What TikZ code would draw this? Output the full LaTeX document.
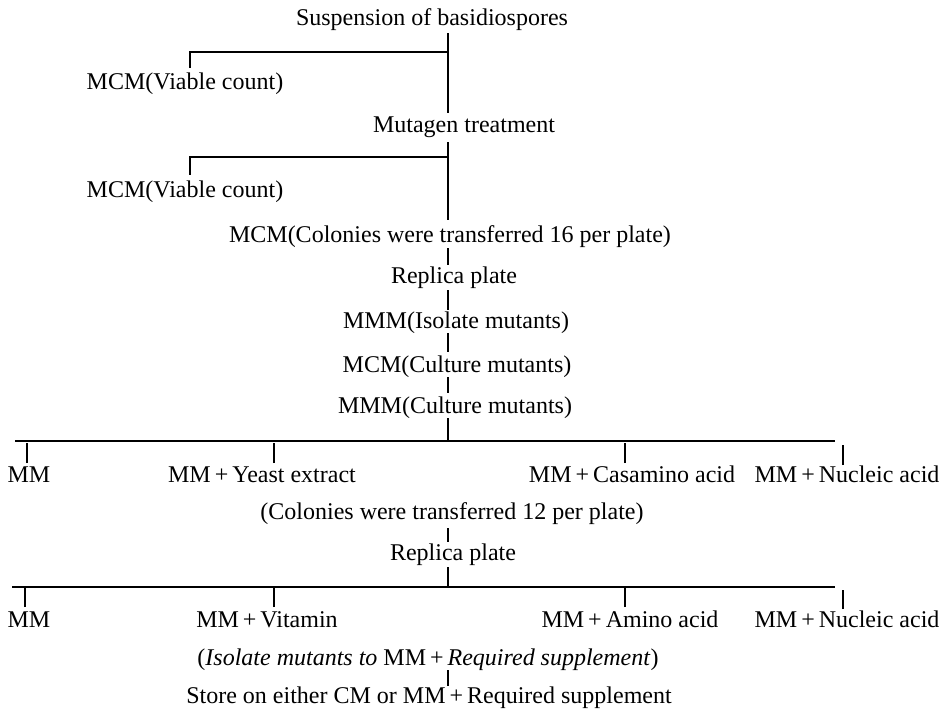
\documentclass[tikz,border=0pt]{standalone}
\usepackage{fontspec}
\setmainfont{Liberation Serif}
\newcommand{\pl}{\,+\,}
\begin{document}
\begin{tikzpicture}[x=1pt,y=-1pt,
  lbl/.style={anchor=base,inner sep=0pt,font=\fontsize{24}{28}\selectfont},
  ln/.style={line width=1.1pt}]
\useasboundingbox (0,0) rectangle (951,712);
\coordinate (axis) at (448,0);
% labels
\node[lbl] (susp)  at (432,25)  {Suspension of basidiospores};
\node[lbl] (vc1)   at (185,89)  {MCM(Viable count)};
\node[lbl] (mut)   at (464,132) {Mutagen treatment};
\node[lbl] (vc2)   at (185,197) {MCM(Viable count)};
\node[lbl] (col16) at (450,242) {MCM(Colonies were transferred 16 per plate)};
\node[lbl] (rep1)  at (454,283) {Replica plate};
\node[lbl] (iso)   at (456,328) {MMM(Isolate mutants)};
\node[lbl] (cul1)  at (457,372) {MCM(Culture mutants)};
\node[lbl] (cul2)  at (455,413) {MMM(Culture mutants)};
\node[lbl] (a1)    at (29,482)  {MM};
\node[lbl] (a2)    at (262,482) {MM\pl Yeast extract};
\node[lbl] (a3)    at (632,482) {MM\pl Casamino acid};
\node[lbl] (a4)    at (847,482) {MM\pl Nucleic acid};
\node[lbl] (col12) at (452,519) {(Colonies were transferred 12 per plate)};
\node[lbl] (rep2)  at (453,560) {Replica plate};
\node[lbl] (b1)    at (29,627)  {MM};
\node[lbl] (b2)    at (267,627) {MM\pl Vitamin};
\node[lbl] (b3)    at (630,627) {MM\pl Amino acid};
\node[lbl] (b4)    at (847,627) {MM\pl Nucleic acid};
\node[lbl] (isol)  at (428,665) {(\textit{Isolate mutants to} MM\pl\textit{Required supplement})};
\node[lbl] (store) at (429,703) {Store on either CM or MM\pl Required supplement};
% junctions
\coordinate (j1) at (448,52);
\coordinate (j2) at (448,157);
\coordinate (bar1L) at (15,441);
\coordinate (bar1R) at (835,441);
\coordinate (bar2L) at (12,587);
\coordinate (bar2R) at (835,587);
% main axis
\draw[ln] ([yshift=-8pt]susp.base -| axis) -- ([yshift=19pt]mut.base -| axis);
\draw[ln] (j1) -| ([xshift=5pt,yshift=21pt]vc1.base);
\draw[ln] ([yshift=-10pt]mut.base -| axis) -- ([yshift=22pt]col16.base -| axis);
\draw[ln] (j2) -| ([xshift=5pt,yshift=22pt]vc2.base);
\draw[ln] ([yshift=-6pt]col16.base -| axis) -- ([yshift=18pt]rep1.base -| axis);
\draw[ln] ([yshift=-7pt]rep1.base -| axis) -- ([yshift=18pt]iso.base -| axis);
\draw[ln] ([yshift=-5pt]iso.base -| axis) -- ([yshift=20pt]cul1.base -| axis);
\draw[ln] ([yshift=-5pt]cul1.base -| axis) -- ([yshift=20pt]cul2.base -| axis);
\draw[ln] ([yshift=-5pt]cul2.base -| axis) -- (bar1L -| axis);
% first branching
\draw[ln] (bar1L) -- (bar1R);
\draw[ln] ([xshift=-2pt,yshift=19pt]a1.base) -- ++(0,-20);
\draw[ln] ([xshift=12pt,yshift=19pt]a2.base) -- ++(0,-20);
\draw[ln] ([xshift=-7pt,yshift=19pt]a3.base) -- ++(0,-20);
\draw[ln] ([xshift=-4pt,yshift=17pt]a4.base) -- ++(0,-20);
% second part
\draw[ln] ([yshift=-9pt]col12.base -| axis) -- ([yshift=18pt]rep2.base -| axis);
\draw[ln] ([yshift=-7pt]rep2.base -| axis) -- (bar2L -| axis);
\draw[ln] (bar2L) -- (bar2R);
\draw[ln] ([xshift=-4pt,yshift=20pt]b1.base) -- ++(0,-19);
\draw[ln] ([xshift=7pt,yshift=20pt]b2.base) -- ++(0,-19);
\draw[ln] ([xshift=-5pt,yshift=20pt]b3.base) -- ++(0,-19);
\draw[ln] ([xshift=-4pt,yshift=18pt]b4.base) -- ++(0,-19);
\draw[ln] ([yshift=-5pt]isol.base -| axis) -- ([yshift=17pt]store.base -| axis);
\end{tikzpicture}
\end{document}
